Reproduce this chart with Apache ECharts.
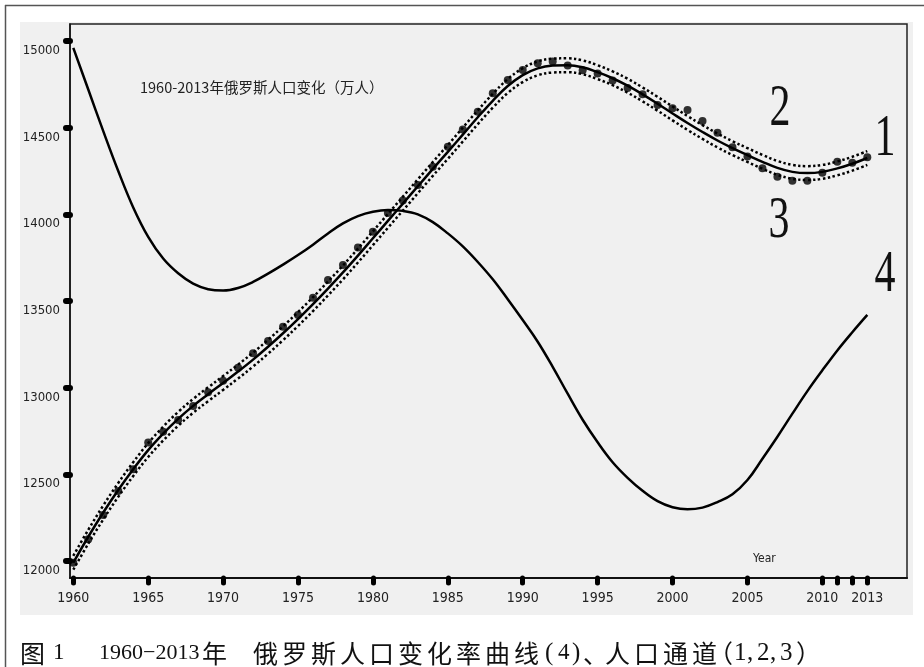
<!DOCTYPE html>
<html>
<head>
<meta charset="utf-8">
<script src="https://cdn.jsdelivr.net/npm/echarts@6/dist/echarts.min.js"></script>
<style>
  html, body { margin: 0; padding: 0; background: #fff; }
  #chart { width: 924px; height: 667px; }
</style>
</head>
<body>
<div id="chart"></div>
<script>
// Russian population 1960-2013 (unit: 10,000 people)
const years = [1960,1961,1962,1963,1964,1965,1966,1967,1968,1969,
               1970,1971,1972,1973,1974,1975,1976,1977,1978,1979,
               1980,1981,1982,1983,1984,1985,1986,1987,1988,1989,
               1990,1991,1992,1993,1994,1995,1996,1997,1998,1999,
               2000,2001,2002,2003,2004,2005,2006,2007,2008,2009,
               2010,2011,2012,2013];

// observed population (dots)
const population = [11990,12125,12265,12404,12529,12683,12746,12813,12894,12974,
                    13040,13115,13198,13269,13352,13419,13519,13621,13708,13808,
                    13900,14008,14080,14169,14275,14390,14490,14592,14698,14775,
                    14833,14871,14881,14858,14831,14812,14772,14729,14693,14631,
                    14612,14602,14538,14471,14387,14333,14266,14217,14194,14194,
                    14240,14304,14298,14329];

// channel centre line (1)
const channelMid = [11990,12140,12280,12410,12530,12640,12735,12820,12895,12962,
                    13027,13093,13162,13236,13314,13396,13482,13572,13665,13762,
                    13862,13962,14062,14162,14262,14360,14460,14560,14655,14740,
                    14803,14842,14858,14860,14848,14820,14785,14742,14692,14638,
                    14582,14527,14475,14426,14382,14342,14303,14268,14245,14238,
                    14245,14265,14292,14325];

// channel upper bound (2)
const channelUpper = [12030,12180,12320,12450,12570,12680,12775,12860,12935,13002,
                      13067,13133,13202,13276,13354,13436,13522,13612,13705,13802,
                      13902,14002,14102,14202,14302,14400,14500,14600,14695,14780,
                      14843,14882,14898,14900,14888,14860,14825,14782,14732,14678,
                      14622,14567,14515,14466,14422,14382,14343,14308,14285,14278,
                      14285,14305,14332,14365];

// channel lower bound (3)
const channelLower = [11950,12100,12240,12370,12490,12600,12695,12780,12855,12922,
                      12987,13053,13122,13196,13274,13356,13442,13532,13625,13722,
                      13822,13922,14022,14122,14222,14320,14420,14520,14615,14700,
                      14763,14802,14818,14820,14808,14780,14745,14702,14652,14598,
                      14542,14487,14435,14386,14342,14302,14263,14228,14205,14198,
                      14205,14225,14252,14285];

// rate-of-change curve (4), drawn on the population scale
const changeRate = [14960,14720,14480,14250,14040,13870,13745,13660,13600,13568,
                    13560,13575,13610,13658,13710,13765,13825,13890,13948,13990,
                    14015,14025,14020,14000,13955,13890,13815,13725,13625,13510,
                    13390,13265,13120,12965,12815,12685,12570,12480,12405,12345,
                    12310,12298,12308,12340,12385,12467,12590,12717,12850,12980,
                    13100,13215,13320,13420];

const xTickValues = [1960,1965,1970,1975,1980,1985,1990,1995,2000,2005,2010,2011,2012,2013];
const xLabelValues = [1960,1965,1970,1975,1980,1985,1990,1995,2000,2005,2010,2013];
const yTickValues = [12000,12500,13000,13500,14000,14500,15000];

const pairs = arr => years.map((y, i) => [y, arr[i]]);

const tickFont = '"DejaVu Sans Condensed", "Liberation Sans Narrow", "DejaVu Sans", sans-serif';
const numFont = '"Liberation Serif", "DejaVu Serif", serif';
const cjkFont = '"Noto Sans CJK SC", sans-serif';

// caption, set piece by piece: [text, left x, font]
const capCjk = '25px ' + cjkFont;
const capNum = '23px ' + numFont;
const capSerif = '25px ' + numFont;
const captionPieces = [
  ['图', 20, capCjk], ['1', 53, capNum], ['1960−2013', 99, '22px ' + numFont], ['年', 202, capCjk]
];
'俄罗斯人口变化率曲线'.split('').forEach((ch, i) => captionPieces.push([ch, 253 + 29 * i, capCjk]));
captionPieces.push(['(', 545, capSerif], ['4', 558, capNum], [')', 572, capSerif], ['、', 583, capCjk]);
'人口通道'.split('').forEach((ch, i) => captionPieces.push([ch, 605 + 29 * i, capCjk]));
captionPieces.push(['（', 708, capCjk], ['1', 734, capSerif], [',', 747, capSerif], ['2', 757, capSerif],
                   [',', 770, capSerif], ['3', 780, capSerif], ['）', 796, capCjk]);

const captionGraphics = captionPieces.map(([t, x, f]) => ({
  type: 'text', x: x, y: 653, silent: true,
  style: { text: t, fill: '#111', font: f, verticalAlign: 'middle' }
}));

const chart = echarts.init(document.getElementById('chart'), null, { renderer: 'canvas' });

const option = {
  animation: false,
  backgroundColor: '#ffffff',
  grid: {
    left: 70, top: 24, right: 17, bottom: 89,
    show: true,
    backgroundColor: '#f0f0f0',
    borderColor: '#222',
    borderWidth: 1.5
  },
  xAxis: {
    type: 'value',
    min: 1959.78,
    max: 2015.65,
    splitLine: { show: false },
    axisLine: { show: true, lineStyle: { color: '#111', width: 2 } },
    axisTick: {
      show: true, customValues: xTickValues, length: 5,
      lineStyle: { color: '#000', width: 5, cap: 'round' }
    },
    axisLabel: {
      customValues: xLabelValues, margin: 13,
      color: '#222', fontFamily: tickFont, fontSize: 14,
      formatter: v => String(v)
    }
  },
  yAxis: {
    type: 'value',
    min: 11902,
    max: 15098,
    splitLine: { show: false },
    axisLine: { show: true, lineStyle: { color: '#111', width: 1.5 } },
    axisTick: {
      show: true, customValues: yTickValues, length: 4,
      lineStyle: { color: '#000', width: 6, cap: 'round' }
    },
    axisLabel: {
      customValues: yTickValues, margin: 10,
      color: '#222', fontFamily: tickFont, fontSize: 13,
      verticalAlign: 'top', padding: [3, 0, 0, 0],
      formatter: v => String(v)
    }
  },
  series: [
    {
      name: 'upper', type: 'line', data: pairs(channelUpper), smooth: 0.4,
      showSymbol: false, lineStyle: { color: '#000', width: 2.5, type: [2.5, 2.5] }
    },
    {
      name: 'lower', type: 'line', data: pairs(channelLower), smooth: 0.4,
      showSymbol: false, lineStyle: { color: '#000', width: 2.5, type: [2.5, 2.5] }
    },
    {
      name: 'centre', type: 'line', data: pairs(channelMid), smooth: 0.4,
      showSymbol: false, lineStyle: { color: '#000', width: 2.5 }
    },
    {
      name: 'rate', type: 'line', data: pairs(changeRate), smooth: 0.4,
      showSymbol: false, lineStyle: { color: '#000', width: 2.5 }
    },
    {
      name: 'population', type: 'scatter', data: pairs(population),
      symbol: 'circle', symbolSize: 8, itemStyle: { color: '#000' }
    }
  ],
  graphic: [
    // light panel behind the plot
    { type: 'rect', z: -10, silent: true,
      shape: { x: 20, y: 22, width: 893, height: 593 },
      style: { fill: '#f0f0f0' } },
    // frame edges
    { type: 'line', silent: true, shape: { x1: 5, y1: 5.5, x2: 924, y2: 5.5 },
      style: { stroke: '#555', lineWidth: 1.5 } },
    { type: 'line', silent: true, shape: { x1: 5.5, y1: 5, x2: 5.5, y2: 667 },
      style: { stroke: '#555', lineWidth: 1.5 } },
    // inner title
    { type: 'text', x: 140, y: 87, silent: true,
      style: { text: '1960-2013年俄罗斯人口变化（万人）', fill: '#222',
               font: '14.5px ' + cjkFont, verticalAlign: 'middle' } },
    // axis name
    { type: 'text', x: 753, y: 559, silent: true,
      style: { text: 'Year', fill: '#222', font: '12px ' + tickFont, verticalAlign: 'middle' } },
    // curve numbers
    { type: 'text', x: 780, y: 110, scaleY: 1.4, silent: true,
      style: { text: '2', fill: '#111', font: '42px ' + numFont, align: 'center', verticalAlign: 'middle' } },
    { type: 'text', x: 885, y: 140, scaleY: 1.4, silent: true,
      style: { text: '1', fill: '#111', font: '42px ' + numFont, align: 'center', verticalAlign: 'middle' } },
    { type: 'text', x: 779, y: 222, scaleY: 1.4, silent: true,
      style: { text: '3', fill: '#111', font: '42px ' + numFont, align: 'center', verticalAlign: 'middle' } },
    { type: 'text', x: 885, y: 276, scaleY: 1.4, silent: true,
      style: { text: '4', fill: '#111', font: '42px ' + numFont, align: 'center', verticalAlign: 'middle' } }
  ].concat(captionGraphics)
};

chart.setOption(option);
</script>
</body>
</html>
